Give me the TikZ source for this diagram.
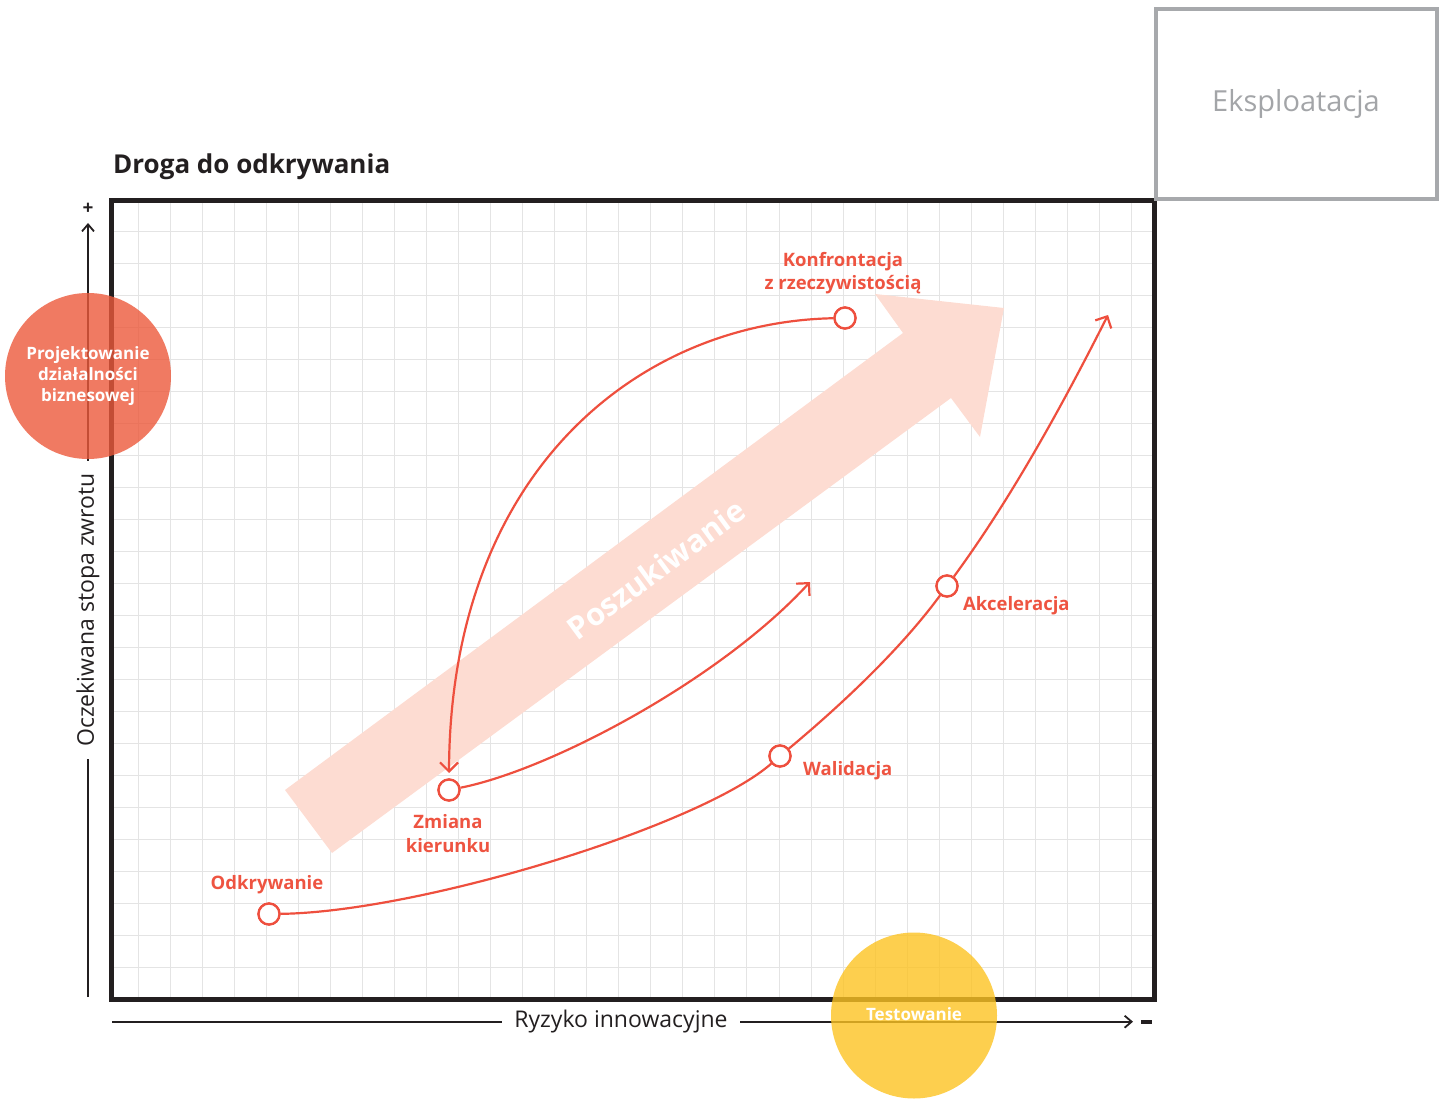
\documentclass[tikz,border=0pt]{standalone}
\usepackage{fontspec}
\setmainfont{Open Sans}
\usetikzlibrary{arrows.meta}
\definecolor{redline}{HTML}{EE4F3E}
\definecolor{redtext}{HTML}{EE5441}
\definecolor{pinkfill}{HTML}{FDDCD2}
\definecolor{salmon}{HTML}{EC593B}
\definecolor{sun}{HTML}{FCC322}
\definecolor{gridc}{HTML}{E4E4E4}
\definecolor{framec}{HTML}{231F20}
\definecolor{greybox}{HTML}{A7A9AC}
\definecolor{greytext}{HTML}{A3A5A8}
\begin{document}
\begin{tikzpicture}[x=1pt,y=-1pt,
  gridline/.style={draw=gridc, line width=1pt},
  redcurve/.style={draw=redline, line width=2.2pt},
  redtip/.style={-{Straight Barb[length=9pt,width=18pt]}},
  axistip/.style={-{Straight Barb[length=7pt,width=12pt]}},
  dot/.style={circle, draw=redline, line width=2.3pt, fill=white, minimum size=21pt, inner sep=0pt},
  lbl/.style={text=redtext, font=\fontsize{18.5}{23.5}\selectfont\bfseries, inner sep=0pt, align=center},
  disc/.style={circle, minimum size=166pt, inner sep=0pt, fill opacity=0.8, text opacity=1, text=white, align=center, font=\fontsize{17}{21}\selectfont\bfseries},
  axisline/.style={draw=framec, line width=1.8pt},
  axislabel/.style={fill=white, text=framec, font=\fontsize{23}{23}\selectfont, inner ysep=2pt, inner xsep=12pt}
]
\useasboundingbox (0,0) rectangle (1440,1099);

% grid
\foreach \i in {0,...,31} \draw[gridline] ({138+32.05*\i},200) -- ({138+32.05*\i},999);
\foreach \j in {0,...,23} \draw[gridline] (111,{231.7+32*\j}) -- (1154,{231.7+32*\j});

% frame
\draw[draw=framec, line width=5pt] (111,200.5) rectangle (1154,999.5);

% Eksploatacja box
\node[draw=greybox, line width=4pt, minimum width=281pt, minimum height=190pt, inner sep=0pt,
      text=greytext, font=\fontsize{29}{29}\selectfont] (eks) at (1296,104) {Eksploatacja};

% title
\node[anchor=base west, inner sep=0pt, text=framec, font=\fontsize{26}{26}\selectfont\bfseries] (title) at (113,174) {Droga do odkrywania};

% axes
\coordinate (ybot) at (88,997);
\coordinate (ytop) at (88,223);
\draw[axisline, axistip] (ybot) -- (ytop);
\node[axislabel, rotate=90] (ylab) at (88,610) {Oczekiwana stopa zwrotu};
\node[inner sep=0pt, text=framec, font=\fontsize{19}{19}\selectfont\bfseries] (plus) at (88,209) {+};

\coordinate (xleft) at (112,1021.7);
\coordinate (xright) at (1133,1021.7);
\draw[axisline, axistip] (xleft) -- (xright);
\node[axislabel] (xlab) at (621,1021.7) {Ryzyko innowacyjne};
\node[inner sep=0pt, text=framec] (minus) at (1146.5,1021.5) {\rule{11pt}{4pt}};

% big arrow
\fill[pinkfill] (285,790) -- (903,333) -- (875,294) -- (1004,308) -- (980,437) -- (951,398) -- (332,853) -- cycle;
\node[rotate=36.4, text=white, inner sep=0pt, font=\fontsize{31}{31}\selectfont\bfseries] (posz) at (656,569) {Poszukiwanie};

% milestone dots
\node[dot] (odk) at (269,914) {};
\node[dot] (wal) at (780,756) {};
\node[dot] (akc) at (947,586) {};
\node[dot] (zm) at (449,790) {};
\node[dot] (konf) at (845,318) {};
\coordinate (tipA) at (1108,315);
\coordinate (tipZ) at (810,582);
\coordinate (tipK) at (449,773);

% curves
\draw[redcurve, redtip] (odk) .. controls (420,912) and (700,826) .. (wal)
   .. controls (840,706) and (900,650) .. (akc)
   .. controls (1010,500) and (1060,410) .. (tipA);
\draw[redcurve, redtip] (zm) .. controls (550,770) and (720,680) .. (tipZ);
\draw[redcurve, redtip] (konf) .. controls (640,322) and (450,470) .. (tipK);

% redraw dots on top
\node[dot] at (odk) {};
\node[dot] at (wal) {};
\node[dot] at (akc) {};
\node[dot] at (zm) {};
\node[dot] at (konf) {};

% labels (base anchor = last line's baseline)
\node[lbl, anchor=base] (lodk) at (267,889) {Odkrywanie};
\node[lbl, anchor=base] (lzm) at (448,852) {Zmiana\\kierunku};
\node[lbl, anchor=base west] (lwal) at (803,775) {Walidacja};
\node[lbl, anchor=base west] (lakc) at (963,610) {Akceleracja};
\node[lbl, anchor=base] (lkonf) at (843,290) {Konfrontacja\\z rzeczywistością};

% discs
\node[disc, fill=salmon] (pbd) at (88,376) {Projektowanie\\działalności\\biznesowej};
\node[disc, fill=sun] (test) at (914,1015.5) {};
\node[inner sep=0pt, text=white, font=\fontsize{17}{17}\selectfont\bfseries, anchor=base] (ltest) at (914,1020) {Testowanie};
\end{tikzpicture}
\end{document}
